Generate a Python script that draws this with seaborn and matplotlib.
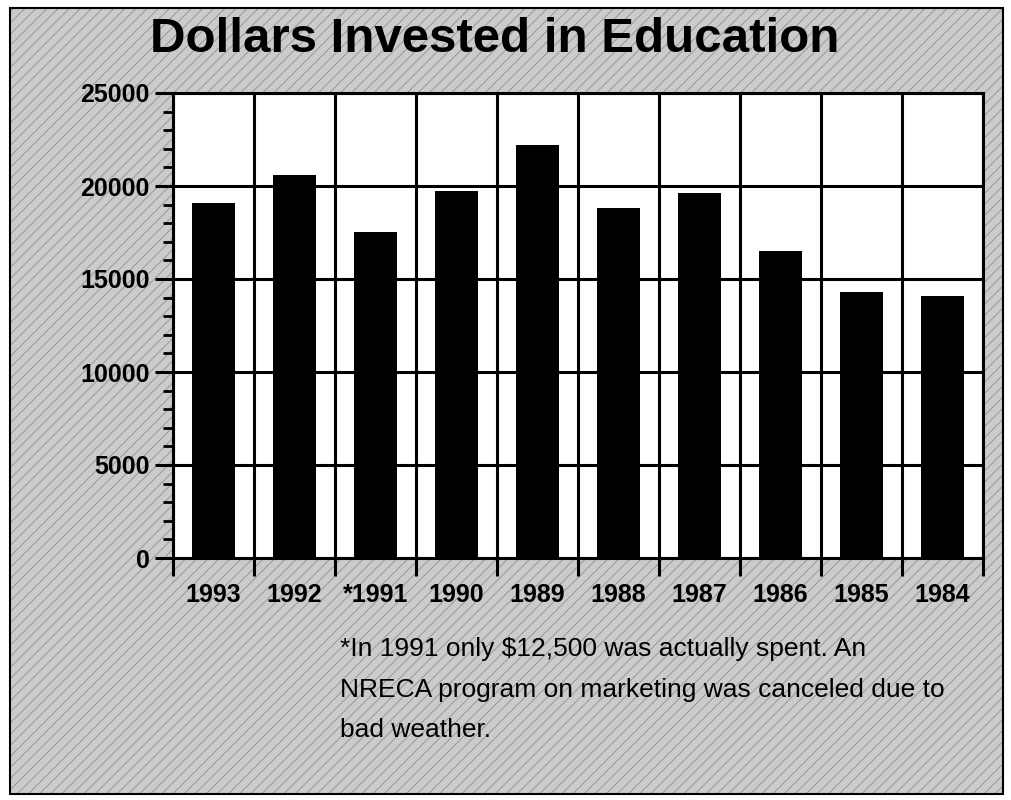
import pandas as pd
import seaborn as sns
import matplotlib.pyplot as plt
from matplotlib.patches import Rectangle
from matplotlib.ticker import MultipleLocator

# datos
years = ['1993', '1992', '*1991', '1990', '1989', '1988', '1987', '1986', '1985', '1984']
dollars = [19100, 20600, 17500, 19750, 22200, 18800, 19600, 16500, 14300, 14100]
y_ticks = [0, 5000, 10000, 15000, 20000, 25000]
title = 'Dollars Invested in Education'
note_lines = ['*In 1991 only $12,500 was actually spent. An',
              'NRECA program on marketing was canceled due to',
              'bad weather.']

df = pd.DataFrame({'Year': years, 'Dollars': dollars})

sns.set_theme(style='white')
plt.rcParams['font.family'] = ['Liberation Sans', 'DejaVu Sans']
plt.rcParams['hatch.linewidth'] = 0.6

fig = plt.figure(figsize=(10.11, 8), dpi=100, facecolor='white')

# fondo gris rayado con marco
x0, y0, x1, y1 = 10 / 1011, 6 / 800, 1003 / 1011, 792 / 800
fig.patches.append(Rectangle((x0, y0), x1 - x0, y1 - y0, transform=fig.transFigure,
                             facecolor='#cbcbcb', edgecolor='#909090', hatch='///',
                             linewidth=0, zorder=-10))
fig.patches.append(Rectangle((x0, y0), x1 - x0, y1 - y0, transform=fig.transFigure,
                             facecolor='none', edgecolor='black', linewidth=1.5,
                             zorder=-9))

ax = fig.add_axes([173 / 1011, 1 - 558 / 800, 810 / 1011, 465 / 800])
ax.set_facecolor('white')

sns.barplot(data=df, x='Year', y='Dollars', color='black', width=0.52,
            saturation=1, linewidth=0, edgecolor='black', ax=ax, zorder=3)

ax.set_xlim(-0.5, len(years) - 0.5)
ax.set_ylim(0, 25000)
ax.set_yticks(y_ticks)
ax.yaxis.set_minor_locator(MultipleLocator(1000))
ax.set_xticks([i - 0.5 for i in range(len(years) + 1)], minor=True)

# rejilla gruesa
ax.grid(True, axis='y', which='major', color='black', linewidth=2.2, zorder=1)
ax.grid(True, axis='x', which='minor', color='black', linewidth=2.2, zorder=1)
ax.grid(False, axis='x', which='major')
ax.set_axisbelow(True)

for s in ax.spines.values():
    s.set_visible(True)
    s.set_color('black')
    s.set_linewidth(2.2)

ax.tick_params(axis='y', which='major', direction='out', length=13, width=2.2,
               labelsize=18, pad=4, left=True, color='black')
ax.tick_params(axis='y', which='minor', direction='out', length=7, width=2,
               left=True, color='black')
ax.tick_params(axis='x', which='major', length=0, labelsize=18, pad=18)
ax.tick_params(axis='x', which='minor', direction='out', length=13, width=2.2,
               bottom=True, color='black')
for lab in ax.get_xticklabels() + ax.get_yticklabels():
    lab.set_fontweight('bold')
    lab.set_color('black')

ax.set_xlabel('')
ax.set_ylabel('')

# titulo y nota
fig.text(0.489, 1 - 40 / 800, title, ha='center', va='center',
         fontsize=35.5, fontweight='bold', color='black')
for i, line in enumerate(note_lines):
    fig.text(340 / 1011, 1 - (656 + 40.5 * i) / 800, line, ha='left',
             va='baseline', fontsize=19, color='black')

plt.savefig('out.png', dpi=100)
